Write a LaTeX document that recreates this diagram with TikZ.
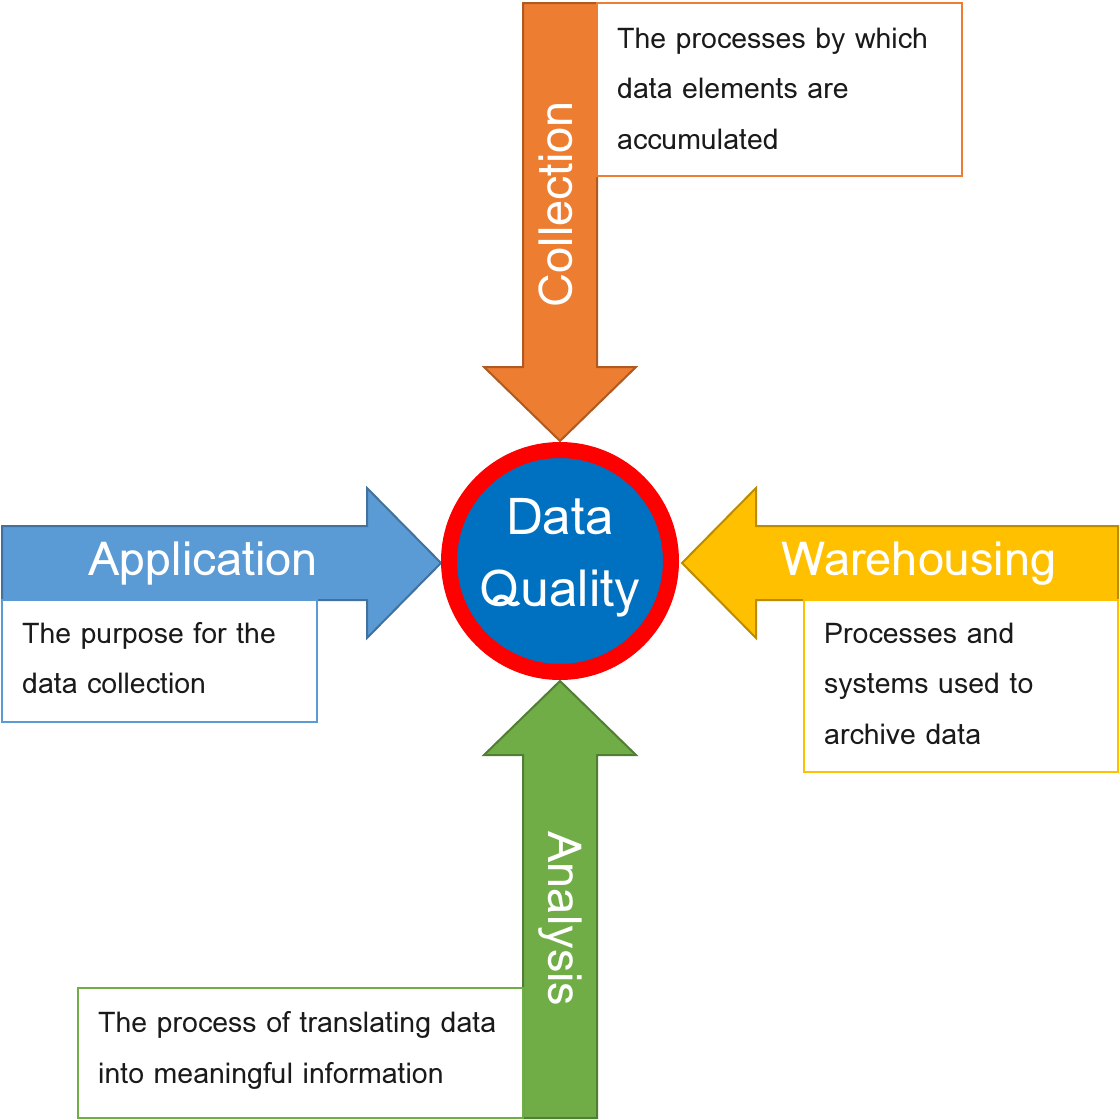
\documentclass[tikz,border=0pt]{standalone}
\usepackage{fontspec}
\setmainfont{Loma}
\definecolor{orFill}{HTML}{ED7D31}
\definecolor{orLine}{HTML}{AE5A21}
\definecolor{blFill}{HTML}{5B9BD5}
\definecolor{blLine}{HTML}{41719C}
\definecolor{goFill}{HTML}{FFC000}
\definecolor{goLine}{HTML}{BC8C00}
\definecolor{grFill}{HTML}{70AD47}
\definecolor{grLine}{HTML}{507E32}
\definecolor{dqBlue}{HTML}{0070C0}
\definecolor{ink}{HTML}{1A1A1A}
\begin{document}
\begin{tikzpicture}[x=1pt,y=-1pt,
  bigarrow/.style={line width=2pt, line join=miter},
  descbox/.style={draw, line width=2pt, fill=white},
  desctext/.style={anchor=base west, inner sep=0pt, text=ink,
    font=\fontsize{28.5}{51}\selectfont, align=left},
  label/.style={inner sep=0pt, text=white, font=\fontsize{47}{50}\selectfont},
  centre/.style={inner sep=0pt, text=white, font=\fontsize{51}{56}\selectfont}]
\useasboundingbox (0,0) rectangle (1120,1120);

% arrow bodies
\draw[bigarrow, fill=orFill, draw=orLine]
  (523,3) -- (597,3) -- (597,367) -- (636,367) -- (560,441) -- (484,367) -- (523,367) -- cycle;
\draw[bigarrow, fill=blFill, draw=blLine]
  (2,526) -- (367,526) -- (367,488) -- (441,563) -- (367,638) -- (367,600) -- (2,600) -- cycle;
\draw[bigarrow, fill=goFill, draw=goLine]
  (1118,526) -- (756,526) -- (756,488) -- (682,563) -- (756,638) -- (756,600) -- (1118,600) -- cycle;
\draw[bigarrow, fill=grFill, draw=grLine]
  (523,1118) -- (597,1118) -- (597,755) -- (636,755) -- (560,681) -- (484,755) -- (523,755) -- cycle;

% description boxes
\draw[descbox, draw=orFill] (597,3) rectangle (962,176);
\draw[descbox, draw=blFill] (2,600) rectangle (317,722);
\draw[descbox, draw=goFill] (804,600) rectangle (1118,772);
\draw[descbox, draw=grFill] (78,988) rectangle (523,1118);

% arrow labels
\node[label, rotate=90, anchor=base] (collection) at (572,204) {Collection};
\node[label, anchor=base] (application) at (203,575) {Application};
\node[label, anchor=base] (warehousing) at (919,575) {Warehousing};
\node[label, rotate=-90, anchor=base] (analysis) at (548,919) {Analysis};

% description texts
\node[desctext] (coltext) at (617,48) {The processes by which};
\node[desctext] (coltext2) at (617,98) {data elements are};
\node[desctext] (coltext3) at (617,149) {accumulated};
\node[desctext] (apptext) at (22,643) {The purpose for the};
\node[desctext] (apptext2) at (22,693) {data collection};
\node[desctext] (whtext) at (824,643) {Processes and};
\node[desctext] (whtext2) at (824,693) {systems used to};
\node[desctext] (whtext3) at (824,744) {archive data};
\node[desctext] (antext) at (98,1032) {The process of translating data};
\node[desctext] (antext2) at (98,1083) {into meaningful information};

% central circle
\node[circle, fill=dqBlue, draw=red, line width=16pt, minimum size=222pt, inner sep=0pt] (dq) at (560,561) {};
\node[centre, anchor=base] (dqa) at (560,534) {Data};
\node[centre, anchor=base] (dqb) at (560,606) {Quality};
\end{tikzpicture}
\end{document}
